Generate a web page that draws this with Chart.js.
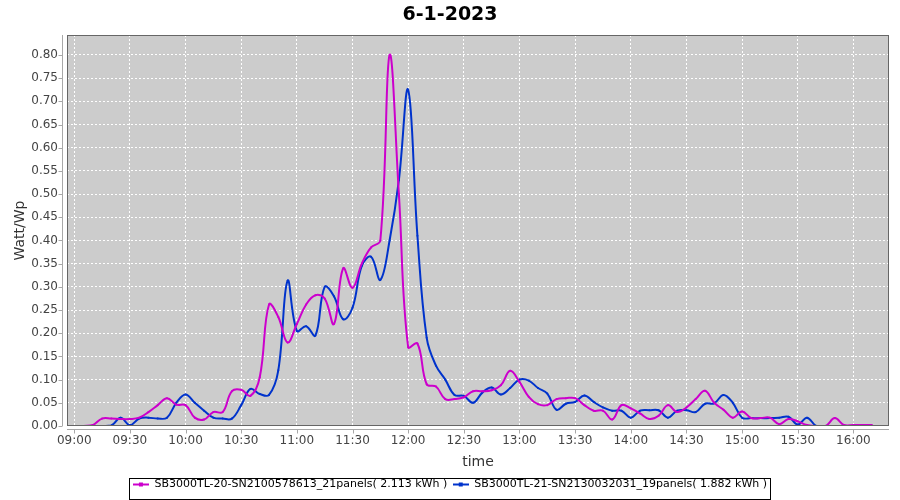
<!DOCTYPE html>
<html><head><meta charset="utf-8">
<script src="https://cdn.jsdelivr.net/npm/chart.js@4/dist/chart.umd.min.js"></script>
<style>html,body{margin:0;padding:0;background:#fff;}</style>
</head><body>
<canvas id="c" width="900" height="500"></canvas>
<script>
const titleText = '6-1-2023';
const xTitle = 'time';
const yTitle = 'Watt/Wp';
const series1Name = 'SB3000TL-20-SN2100578613_21panels( 2.113 kWh )';
const series2Name = 'SB3000TL-21-SN2130032031_19panels( 1.882 kWh )';
const series1Color = '#cc00cc';
const series2Color = '#0033cc';

const times = ['09:05','09:10','09:15','09:20','09:25','09:30','09:35','09:40','09:45','09:50','09:55',
 '10:00','10:05','10:10','10:15','10:20','10:25','10:30','10:35','10:40','10:45','10:50','10:55',
 '11:00','11:05','11:10','11:15','11:20','11:25','11:30','11:35','11:40','11:45','11:50','11:55',
 '12:00','12:05','12:10','12:15','12:20','12:25','12:30','12:35','12:40','12:45','12:50','12:55',
 '13:00','13:05','13:10','13:15','13:20','13:25','13:30','13:35','13:40','13:45','13:50','13:55',
 '14:00','14:05','14:10','14:15','14:20','14:25','14:30','14:35','14:40','14:45','14:50','14:55',
 '15:00','15:05','15:10','15:15','15:20','15:25','15:30','15:35','15:40','15:45','15:50','15:55',
 '16:00','16:05','16:10'];

const series1 = [0.000,0.002,0.016,0.016,0.015,0.015,0.018,0.030,0.045,0.060,0.046,
 0.045,0.018,0.014,0.030,0.030,0.075,0.078,0.065,0.105,0.262,0.235,0.180,
 0.220,0.262,0.282,0.275,0.220,0.340,0.298,0.350,0.385,0.400,0.800,0.500,
 0.170,0.178,0.090,0.085,0.058,0.058,0.062,0.075,0.075,0.077,0.088,0.119,
 0.095,0.063,0.047,0.045,0.058,0.060,0.060,0.045,0.033,0.033,0.014,0.045,
 0.038,0.027,0.015,0.022,0.045,0.030,0.040,0.058,0.076,0.050,0.035,0.018,
 0.031,0.017,0.017,0.018,0.004,0.015,0.010,0.002,0.000,0.000,0.017,0.002,
 0.002,0.002,0.002];

const series2 = [null,null,0.000,0.001,0.018,0.002,0.016,0.018,0.016,0.018,0.050,
 0.068,0.050,0.033,0.018,0.016,0.016,0.045,0.080,0.069,0.067,0.120,0.313,
 0.205,0.215,0.195,0.300,0.280,0.230,0.255,0.345,0.365,0.315,0.400,0.530,
 0.725,0.410,0.190,0.130,0.100,0.067,0.065,0.050,0.072,0.083,0.068,0.082,
 0.100,0.098,0.082,0.070,0.035,0.048,0.052,0.066,0.052,0.040,0.033,0.033,
 0.018,0.033,0.034,0.034,0.018,0.033,0.034,0.030,0.048,0.049,0.067,0.050,
 0.018,0.017,0.017,0.017,0.018,0.020,0.003,0.018,0.000,0.000,0.000,0.000,
 null,null,null];

const xTickLabels = ['09:00','09:30','10:00','10:30','11:00','11:30','12:00','12:30','13:00','13:30','14:00','14:30','15:00','15:30','16:00'];
const yTickLabels = ['0.00','0.05','0.10','0.15','0.20','0.25','0.30','0.35','0.40','0.45','0.50','0.55','0.60','0.65','0.70','0.75','0.80'];
const xRange = ['08:56.1','16:19.2'];
const yRange = [0, 0.843];

const toMin = s => { const p = s.split(':'); return Number(p[0]) * 60 + Number(p[1]); };
const fmt = v => { const h = Math.floor(v / 60), m = Math.round(v - h * 60); return String(h).padStart(2, '0') + ':' + String(m).padStart(2, '0'); };
const pts = vals => times.map((t, i) => ({x: toMin(t), y: vals[i]}));

function legendIcon(color) {
  const c = document.createElement('canvas');
  c.width = 16; c.height = 6;
  const g = c.getContext('2d');
  g.fillStyle = color;
  g.fillRect(0, 2, 16, 2);
  g.fillRect(6, 1, 4, 4);
  return c;
}
const icons = [legendIcon(series1Color), legendIcon(series2Color)];

const deco = {
  id: 'deco',
  beforeDraw(chart) {
    const {ctx, chartArea: a} = chart;
    ctx.save();
    ctx.fillStyle = '#cccccc';
    ctx.fillRect(a.left, a.top, a.right - a.left, a.bottom - a.top);
    ctx.restore();
  },
  afterDraw(chart) {
    const {ctx, chartArea: a, scales} = chart;
    ctx.save();
    ctx.lineWidth = 1;
    ctx.strokeStyle = '#666666';
    ctx.strokeRect(Math.round(a.left) + 0.5, Math.round(a.top) + 0.5, Math.round(a.right - a.left) - 1, Math.round(a.bottom - a.top) - 1);
    ctx.strokeStyle = '#a8a8a8';
    ctx.beginPath();
    const ax = Math.round(a.left) - 4.5;
    const ay = Math.round(a.bottom) + 3.5;
    ctx.moveTo(ax, a.top); ctx.lineTo(ax, a.bottom);
    ctx.moveTo(a.left, ay); ctx.lineTo(a.right, ay);
    scales.y.ticks.forEach((t, i) => { const p = Math.round(scales.y.getPixelForTick(i)) + 0.5; ctx.moveTo(ax - 4, p); ctx.lineTo(ax, p); });
    scales.x.ticks.forEach((t, i) => { const p = Math.round(scales.x.getPixelForTick(i)) + 0.5; ctx.moveTo(p, ay); ctx.lineTo(p, ay + 4); });
    ctx.stroke();
    const hb = chart.legend && chart.legend.legendHitBoxes;
    if (hb && hb.length) {
      const l = Math.min(...hb.map(h => h.left)) - 4;
      const r = Math.max(...hb.map(h => h.left + h.width)) + 3;
      const t = hb[0].top - 1;
      const b = hb[0].top + hb[0].height + 9;
      ctx.strokeStyle = '#000';
      ctx.strokeRect(Math.round(l) + 0.5, Math.round(t) + 0.5, Math.round(r - l), Math.round(b - t));
    }
    ctx.restore();
  }
};

const tickFont = {family: 'DejaVu Sans', size: 12};
const titleFont = {family: 'DejaVu Sans', size: 14};

new Chart(document.getElementById('c'), {
  type: 'line',
  data: {
    datasets: [
      {label: series1Name, data: pts(series1), borderColor: series1Color, backgroundColor: series1Color, pointBackgroundColor: series1Color, borderWidth: 2, tension: 0.4, pointRadius: 1, pointBorderWidth: 0, fill: false, spanGaps: false},
      {label: series2Name, data: pts(series2), borderColor: series2Color, backgroundColor: series2Color, pointBackgroundColor: series2Color, borderWidth: 2, tension: 0.4, pointRadius: 1, pointBorderWidth: 0, fill: false, spanGaps: false}
    ]
  },
  options: {
    responsive: false, animation: false, devicePixelRatio: 1,
    layout: {padding: 0},
    plugins: {
      title: {display: true, text: titleText, color: '#000', font: {family: 'DejaVu Sans', size: 19, weight: 'bold', lineHeight: 1.2}, padding: {top: 4, bottom: 8.2}},
      legend: {position: 'bottom', labels: {usePointStyle: true, pointStyleWidth: 16, color: '#000', font: {family: 'DejaVu Sans', size: 11}, padding: 5.5,
        generateLabels(chart) {
          const items = Chart.defaults.plugins.legend.labels.generateLabels(chart);
          items.forEach((it, i) => { it.pointStyle = icons[i]; });
          return items;
        }}},
      tooltip: {enabled: false}
    },
    scales: {
      x: {type: 'linear', min: toMin(xRange[0]), max: toMin(xRange[1]),
        afterBuildTicks(s) { s.ticks = xTickLabels.map(l => ({value: toMin(l)})); },
        afterFit(s) { s.height = 47.5; },
        ticks: {callback: v => fmt(v), font: tickFont, color: '#444', padding: 8, maxRotation: 0, autoSkip: false},
        grid: {color: '#ffffff', drawTicks: false, lineWidth: 1},
        border: {display: false, dash: [2, 2]},
        title: {display: true, text: xTitle, font: titleFont, color: '#333', padding: {top: 0, bottom: 3}}},
      y: {type: 'linear', min: yRange[0], max: yRange[1],
        afterBuildTicks(s) { s.ticks = yTickLabels.map(l => ({value: Number(l)})); },
        afterFit(s) { s.width = 67; },
        ticks: {callback: v => v.toFixed(2), font: tickFont, color: '#444', padding: 9, autoSkip: false},
        grid: {color: '#ffffff', drawTicks: false, lineWidth: 1},
        border: {display: false, dash: [2, 2]},
        title: {display: true, text: yTitle, font: titleFont, color: '#333', padding: {top: 12, bottom: 0}}},
      yr: {type: 'linear', position: 'right', display: true,
        afterFit(s) { s.width = 11; },
        ticks: {display: false}, grid: {display: false}, border: {display: false}}
    }
  },
  plugins: [deco]
});
</script>
</body></html>
